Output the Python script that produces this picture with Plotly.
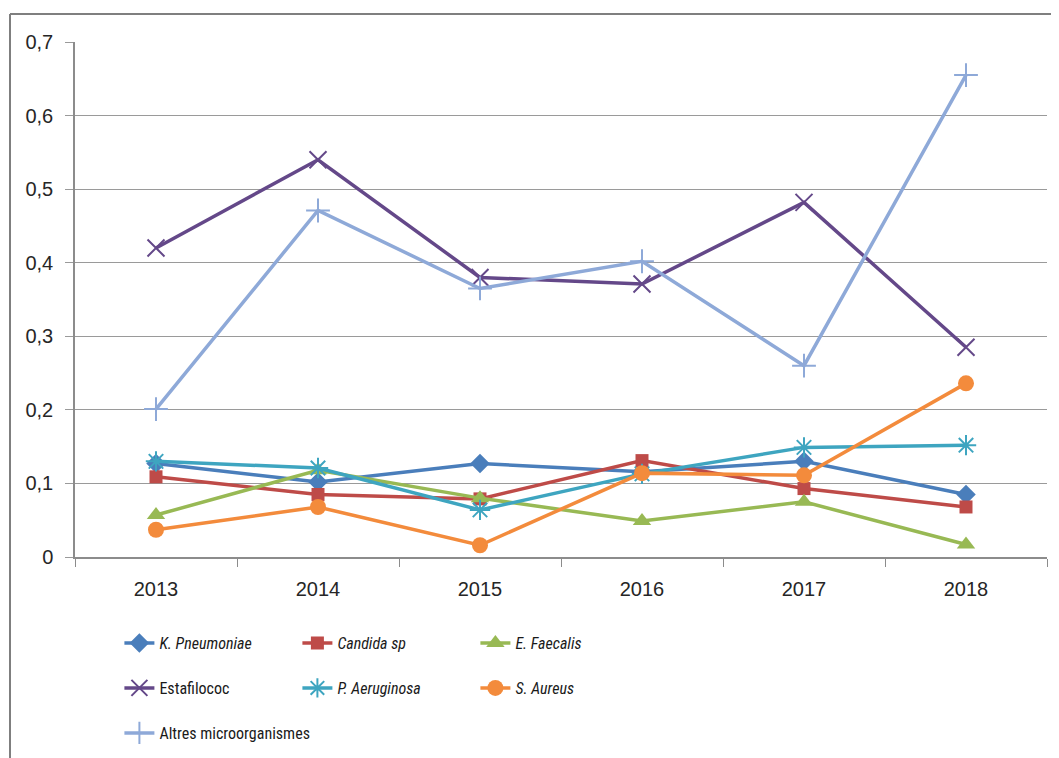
import plotly.graph_objects as go

years = ["2013", "2014", "2015", "2016", "2017", "2018"]

k_pneumoniae = [0.127, 0.102, 0.127, 0.116, 0.130, 0.085]
candida_sp = [0.109, 0.085, 0.079, 0.131, 0.093, 0.068]
e_faecalis = [0.057, 0.118, 0.080, 0.049, 0.075, 0.017]
estafilococ = [0.420, 0.540, 0.380, 0.371, 0.482, 0.285]
p_aeruginosa = [0.130, 0.121, 0.064, 0.113, 0.149, 0.152]
s_aureus = [0.037, 0.068, 0.016, 0.114, 0.111, 0.236]
altres = [0.201, 0.471, 0.365, 0.402, 0.260, 0.655]

y_tickvals = [0, 0.1, 0.2, 0.3, 0.4, 0.5, 0.6, 0.7]
y_ticktext = ["0", "0,1", "0,2", "0,3", "0,4", "0,5", "0,6", "0,7"]

series = [
    ("<i>K. Pneumoniae</i>", k_pneumoniae, "#4a7ebb", "diamond", 15, "legend"),
    ("<i>Candida sp</i>", candida_sp, "#be4b48", "square", 13, "legend"),
    ("<i>E. Faecalis</i>", e_faecalis, "#98b954", "triangle-up", 16, "legend"),
    ("Estafilococ", estafilococ, "#644889", "x-thin-open", 17, "legend2"),
    ("<i>P. Aeruginosa</i>", p_aeruginosa, "#3ea5c0", "asterisk-open", 17, "legend2"),
    ("<i>S. Aureus</i>", s_aureus, "#f38b3c", "circle", 16, "legend2"),
    ("Altres microorganismes", altres, "#8ea9d8", "cross-thin-open", 17, "legend3"),
]

# The page body adds an 8 px offset, so the figure is laid out 8 px smaller.
W, H = 1051, 750
ML, MR, MT, MB = 67, 12, 34, 201
PW, PH = W - ML - MR, H - MT - MB

fig = go.Figure()
for name, vals, color, sym, size, leg in series:
    open_sym = sym.endswith("open")
    fig.add_trace(go.Scatter(
        x=years, y=vals, name=name, mode="lines+markers",
        line=dict(color=color, width=3.5),
        marker=dict(symbol=sym, size=size, color=color,
                    line=dict(color=color, width=2 if open_sym else 0)),
        legend=leg,
    ))

legend_font = dict(family="Roboto Condensed, Roboto, sans-serif", size=16, color="#1a1a1a")
common_legend = dict(orientation="h", xref="container", yref="container", x=0.106,
                     xanchor="left", yanchor="middle", font=legend_font,
                     entrywidth=133, entrywidthmode="pixels", itemwidth=30,
                     bgcolor="rgba(0,0,0,0)", traceorder="normal")

fig.update_layout(
    width=W, height=H,
    paper_bgcolor="white", plot_bgcolor="white",
    margin=dict(l=ML, r=MR, t=MT, b=MB),
    font=dict(family="Liberation Sans, Arial, sans-serif", size=20, color="#262626"),
    showlegend=True,
    legend=dict(common_legend, y=1 - (643 - 8) / H),
    legend2=dict(common_legend, y=1 - (688 - 8) / H),
    legend3=dict(common_legend, y=1 - (733 - 8) / H, entrywidth=300),
    xaxis=dict(type="category", range=[-0.5, 5.5], showgrid=False, automargin=False,
               showline=True, linecolor="#8c8c8c", linewidth=1.5,
               ticks="outside", tickson="boundaries", ticklen=8, tickcolor="#8c8c8c",
               ticklabelstandoff=13, zeroline=False),
    yaxis=dict(range=[0, 0.7], tickvals=y_tickvals, ticktext=y_ticktext, automargin=False,
               showgrid=True, gridcolor="#9a9a9a", gridwidth=1.2,
               showline=True, linecolor="#8c8c8c", linewidth=1.5,
               ticks="outside", ticklen=8, tickcolor="#9a9a9a",
               ticklabelstandoff=8, zeroline=False),
    shapes=[
        dict(type="line", xref="paper", yref="paper",
             x0=(2 - ML) / PW, x1=1.05, y0=1 + (MT - 6) / PH, y1=1 + (MT - 6) / PH,
             line=dict(color="#7f7f7f", width=2)),
        dict(type="line", xref="paper", yref="paper",
             x0=(2 - ML) / PW, x1=(2 - ML) / PW, y0=1 + (MT - 6) / PH, y1=-0.45,
             line=dict(color="#7f7f7f", width=2)),
    ],
)

fig.write_html("out.html")
